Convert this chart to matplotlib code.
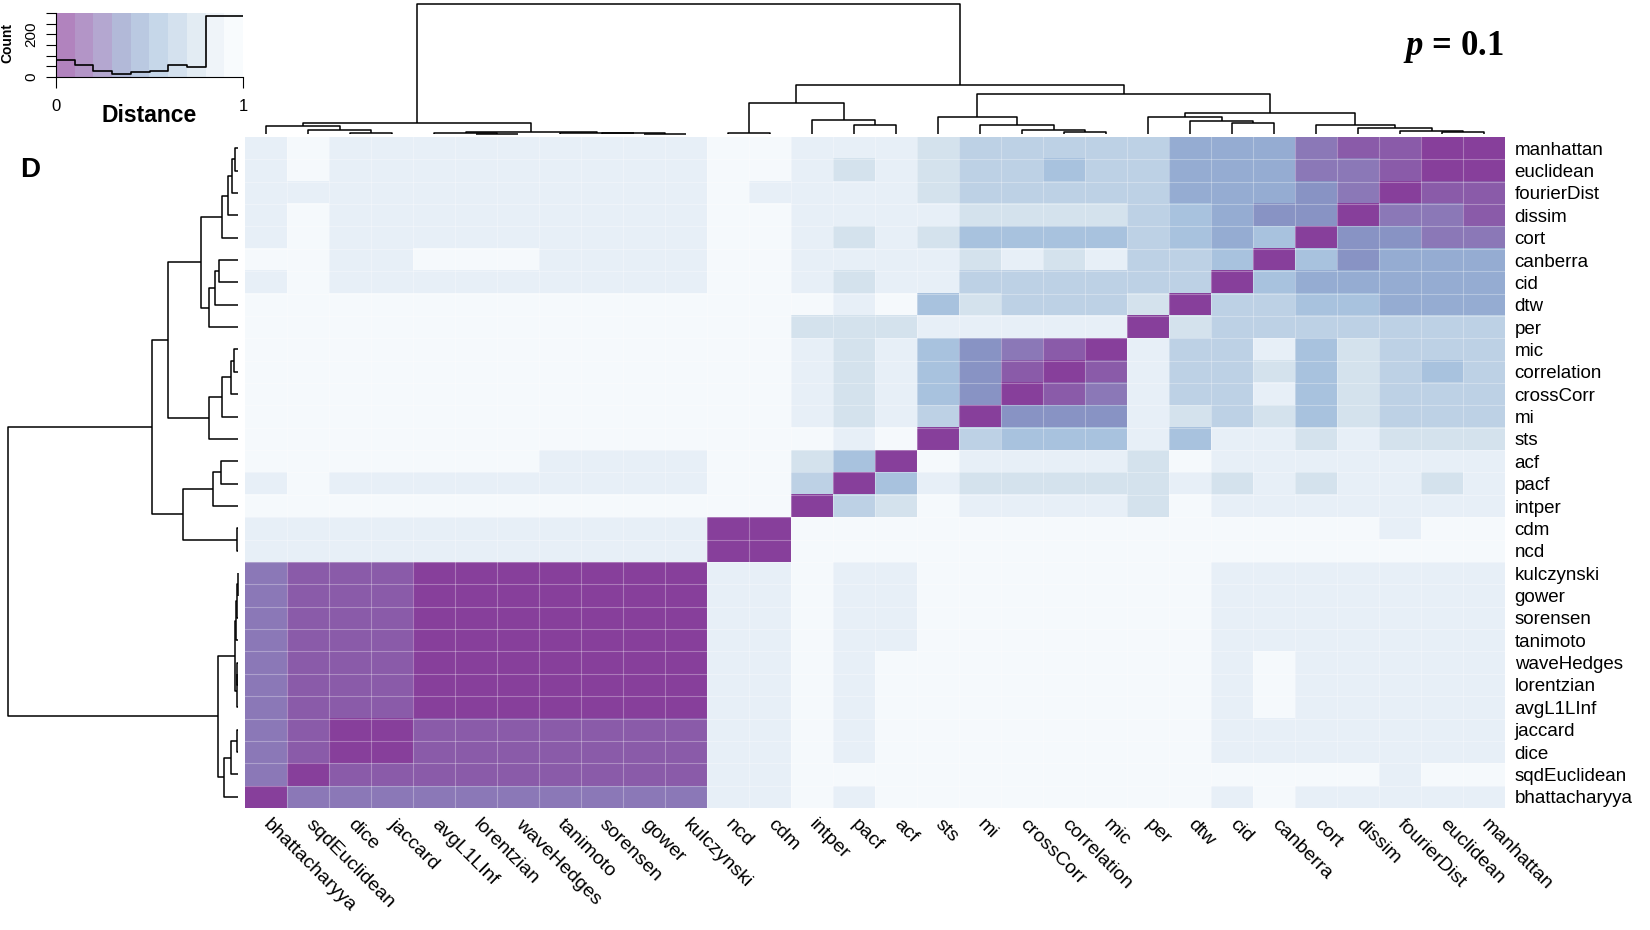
import matplotlib
matplotlib.use("Agg")
import matplotlib.pyplot as plt
import numpy as np
from matplotlib.colors import ListedColormap, BoundaryNorm

plt.rcParams['font.family'] = ['Liberation Sans', 'DejaVu Sans']
plt.rcParams['mathtext.fontset'] = 'custom'
plt.rcParams['mathtext.it'] = 'Liberation Serif:italic:bold'
plt.rcParams['mathtext.rm'] = 'Liberation Serif:bold'

# column order (left to right); rows run the other way (top = manhattan)
col_names = ["bhattacharyya", "sqdEuclidean", "dice", "jaccard", "avgL1LInf",
             "lorentzian", "waveHedges", "tanimoto", "sorensen", "gower",
             "kulczynski", "ncd", "cdm", "intper", "pacf", "acf", "sts", "mi",
             "crossCorr", "correlation", "mic", "per", "dtw", "cid", "canberra",
             "cort", "dissim", "fourierDist", "euclidean", "manhattan"]
row_names = col_names[::-1]

# distance matrix, rows top to bottom, columns left to right
dist = [
    [0.85,0.95,0.85,0.85,0.85,0.85,0.85,0.85,0.85,0.85,0.85,0.95,0.95,0.85,0.85,0.85,0.75,0.65,0.65,0.65,0.65,0.65,0.45,0.45,0.45,0.25,0.15,0.15,0.05,0.0],
    [0.85,0.95,0.85,0.85,0.85,0.85,0.85,0.85,0.85,0.85,0.85,0.95,0.95,0.85,0.75,0.85,0.75,0.65,0.65,0.55,0.65,0.65,0.45,0.45,0.45,0.25,0.25,0.15,0.0,0.05],
    [0.85,0.85,0.85,0.85,0.85,0.85,0.85,0.85,0.85,0.85,0.85,0.95,0.85,0.85,0.85,0.85,0.75,0.65,0.65,0.65,0.65,0.65,0.45,0.45,0.45,0.35,0.25,0.0,0.15,0.15],
    [0.85,0.95,0.85,0.85,0.85,0.85,0.85,0.85,0.85,0.85,0.85,0.95,0.95,0.85,0.85,0.85,0.85,0.75,0.75,0.75,0.75,0.65,0.55,0.45,0.35,0.35,0.0,0.25,0.25,0.15],
    [0.85,0.95,0.85,0.85,0.85,0.85,0.85,0.85,0.85,0.85,0.85,0.95,0.95,0.85,0.75,0.85,0.75,0.55,0.55,0.55,0.55,0.65,0.55,0.45,0.55,0.0,0.35,0.35,0.25,0.25],
    [0.95,0.95,0.85,0.85,0.95,0.95,0.95,0.85,0.85,0.85,0.85,0.95,0.95,0.85,0.85,0.85,0.85,0.75,0.85,0.75,0.85,0.65,0.65,0.55,0.0,0.55,0.35,0.45,0.45,0.45],
    [0.85,0.95,0.85,0.85,0.85,0.85,0.85,0.85,0.85,0.85,0.85,0.95,0.95,0.85,0.75,0.85,0.85,0.65,0.65,0.65,0.65,0.65,0.65,0.0,0.55,0.45,0.45,0.45,0.45,0.45],
    [0.95,0.95,0.95,0.95,0.95,0.95,0.95,0.95,0.95,0.95,0.95,0.95,0.95,0.95,0.85,0.95,0.55,0.75,0.65,0.65,0.65,0.75,0.0,0.65,0.65,0.55,0.55,0.45,0.45,0.45],
    [0.95,0.95,0.95,0.95,0.95,0.95,0.95,0.95,0.95,0.95,0.95,0.95,0.95,0.75,0.75,0.75,0.85,0.85,0.85,0.85,0.85,0.0,0.75,0.65,0.65,0.65,0.65,0.65,0.65,0.65],
    [0.95,0.95,0.95,0.95,0.95,0.95,0.95,0.95,0.95,0.95,0.95,0.95,0.95,0.85,0.75,0.85,0.55,0.35,0.25,0.15,0.0,0.85,0.65,0.65,0.85,0.55,0.75,0.65,0.65,0.65],
    [0.95,0.95,0.95,0.95,0.95,0.95,0.95,0.95,0.95,0.95,0.95,0.95,0.95,0.85,0.75,0.85,0.55,0.35,0.15,0.0,0.15,0.85,0.65,0.65,0.75,0.55,0.75,0.65,0.55,0.65],
    [0.95,0.95,0.95,0.95,0.95,0.95,0.95,0.95,0.95,0.95,0.95,0.95,0.95,0.85,0.75,0.85,0.55,0.35,0.0,0.15,0.25,0.85,0.65,0.65,0.85,0.55,0.75,0.65,0.65,0.65],
    [0.95,0.95,0.95,0.95,0.95,0.95,0.95,0.95,0.95,0.95,0.95,0.95,0.95,0.85,0.75,0.85,0.65,0.0,0.35,0.35,0.35,0.85,0.75,0.65,0.75,0.55,0.75,0.65,0.65,0.65],
    [0.95,0.95,0.95,0.95,0.95,0.95,0.95,0.95,0.95,0.95,0.95,0.95,0.95,0.95,0.85,0.95,0.0,0.65,0.55,0.55,0.55,0.85,0.55,0.85,0.85,0.75,0.85,0.75,0.75,0.75],
    [0.95,0.95,0.95,0.95,0.95,0.95,0.95,0.85,0.85,0.85,0.85,0.95,0.95,0.75,0.55,0.0,0.95,0.85,0.85,0.85,0.85,0.75,0.95,0.85,0.85,0.85,0.85,0.85,0.85,0.85],
    [0.85,0.95,0.85,0.85,0.85,0.85,0.85,0.85,0.85,0.85,0.85,0.95,0.95,0.65,0.0,0.55,0.85,0.75,0.75,0.75,0.75,0.75,0.85,0.75,0.85,0.75,0.85,0.85,0.75,0.85],
    [0.95,0.95,0.95,0.95,0.95,0.95,0.95,0.95,0.95,0.95,0.95,0.95,0.95,0.0,0.65,0.75,0.95,0.85,0.85,0.85,0.85,0.75,0.95,0.85,0.85,0.85,0.85,0.85,0.85,0.85],
    [0.85,0.85,0.85,0.85,0.85,0.85,0.85,0.85,0.85,0.85,0.85,0.05,0.0,0.95,0.95,0.95,0.95,0.95,0.95,0.95,0.95,0.95,0.95,0.95,0.95,0.95,0.95,0.85,0.95,0.95],
    [0.85,0.85,0.85,0.85,0.85,0.85,0.85,0.85,0.85,0.85,0.85,0.0,0.05,0.95,0.95,0.95,0.95,0.95,0.95,0.95,0.95,0.95,0.95,0.95,0.95,0.95,0.95,0.95,0.95,0.95],
    [0.25,0.15,0.15,0.15,0.05,0.05,0.05,0.05,0.05,0.05,0.0,0.85,0.85,0.95,0.85,0.85,0.95,0.95,0.95,0.95,0.95,0.95,0.95,0.85,0.85,0.85,0.85,0.85,0.85,0.85],
    [0.25,0.15,0.15,0.15,0.05,0.05,0.05,0.05,0.05,0.0,0.05,0.85,0.85,0.95,0.85,0.85,0.95,0.95,0.95,0.95,0.95,0.95,0.95,0.85,0.85,0.85,0.85,0.85,0.85,0.85],
    [0.25,0.15,0.15,0.15,0.05,0.05,0.05,0.05,0.0,0.05,0.05,0.85,0.85,0.95,0.85,0.85,0.95,0.95,0.95,0.95,0.95,0.95,0.95,0.85,0.85,0.85,0.85,0.85,0.85,0.85],
    [0.25,0.15,0.15,0.15,0.05,0.05,0.05,0.0,0.05,0.05,0.05,0.85,0.85,0.95,0.85,0.85,0.95,0.95,0.95,0.95,0.95,0.95,0.95,0.85,0.85,0.85,0.85,0.85,0.85,0.85],
    [0.25,0.15,0.15,0.15,0.05,0.05,0.0,0.05,0.05,0.05,0.05,0.85,0.85,0.95,0.85,0.95,0.95,0.95,0.95,0.95,0.95,0.95,0.95,0.85,0.95,0.85,0.85,0.85,0.85,0.85],
    [0.25,0.15,0.15,0.15,0.05,0.0,0.05,0.05,0.05,0.05,0.05,0.85,0.85,0.95,0.85,0.95,0.95,0.95,0.95,0.95,0.95,0.95,0.95,0.85,0.95,0.85,0.85,0.85,0.85,0.85],
    [0.25,0.15,0.15,0.15,0.0,0.05,0.05,0.05,0.05,0.05,0.05,0.85,0.85,0.95,0.85,0.95,0.95,0.95,0.95,0.95,0.95,0.95,0.95,0.85,0.95,0.85,0.85,0.85,0.85,0.85],
    [0.25,0.15,0.05,0.0,0.15,0.15,0.15,0.15,0.15,0.15,0.15,0.85,0.85,0.95,0.85,0.95,0.95,0.95,0.95,0.95,0.95,0.95,0.95,0.85,0.85,0.85,0.85,0.85,0.85,0.85],
    [0.25,0.15,0.0,0.05,0.15,0.15,0.15,0.15,0.15,0.15,0.15,0.85,0.85,0.95,0.85,0.95,0.95,0.95,0.95,0.95,0.95,0.95,0.95,0.85,0.85,0.85,0.85,0.85,0.85,0.85],
    [0.25,0.0,0.15,0.15,0.15,0.15,0.15,0.15,0.15,0.15,0.15,0.85,0.85,0.95,0.95,0.95,0.95,0.95,0.95,0.95,0.95,0.95,0.95,0.95,0.95,0.95,0.95,0.85,0.95,0.95],
    [0.0,0.25,0.25,0.25,0.25,0.25,0.25,0.25,0.25,0.25,0.25,0.85,0.85,0.95,0.85,0.95,0.95,0.95,0.95,0.95,0.95,0.95,0.95,0.85,0.95,0.85,0.85,0.85,0.85,0.85],
]

# hierarchical merges: (left node, right node, height); leaves 0-29 in column order,
# merged node k gets id 30 + k
merges = [
    (2, 3, 0.004), (1, 30, 0.031), (0, 31, 0.062),
    (5, 6, 0.003), (4, 33, 0.006), (9, 10, 0.002), (8, 35, 0.004), (7, 36, 0.007),
    (34, 37, 0.014), (32, 38, 0.085),
    (11, 12, 0.004), (14, 15, 0.072), (13, 41, 0.109), (40, 42, 0.239),
    (19, 20, 0.018), (18, 44, 0.031), (17, 45, 0.069), (16, 46, 0.127),
    (23, 24, 0.081), (22, 48, 0.102), (21, 49, 0.128),
    (28, 29, 0.014), (27, 51, 0.026), (26, 52, 0.045), (25, 53, 0.071),
    (50, 54, 0.162), (47, 55, 0.306), (43, 56, 0.375), (39, 57, 1.0),
]

level_colors = ["#873F9B", "#8A5BA9", "#8B78B7", "#8893C4", "#95ACD2",
                "#A8C2DE", "#BDD1E5", "#D4E2ED", "#E7EFF7", "#F5F9FC"]
bounds = np.linspace(0, 1, 11)

W, H = 1650, 930
fig = plt.figure(figsize=(W / 100, H / 100), dpi=100)
cmap = ListedColormap(level_colors)
norm = BoundaryNorm(bounds, cmap.N)
D = np.array(dist)


def tree_lines(merges, n):
    pos = {i: float(i) for i in range(n)}
    hgt = {i: 0.0 for i in range(n)}
    segs = []
    for k, (a, b, h) in enumerate(merges):
        segs.append(([pos[a], pos[a], pos[b], pos[b]], [hgt[a], h, h, hgt[b]]))
        pos[n + k] = (pos[a] + pos[b]) / 2
        hgt[n + k] = h
    return segs


segs = tree_lines(merges, len(col_names))

# heatmap
ax = fig.add_axes([245 / W, 1 - 808 / H, 1260 / W, 671 / H])
ax.imshow(D, cmap=cmap, norm=norm, aspect='auto', interpolation='nearest')
for i in range(1, 30):
    ax.axvline(i - 0.5, color='white', lw=0.8, alpha=0.3)
    ax.axhline(i - 0.5, color='white', lw=0.8, alpha=0.3)
for s in ax.spines.values():
    s.set_visible(False)
ax.yaxis.tick_right()
ax.set_yticks(range(30), row_names, fontsize=13.5)
ax.set_xticks(range(30), col_names, fontsize=14, rotation=-45, ha='left',
              va='center', rotation_mode='anchor')
ax.tick_params(axis='y', length=0, pad=7)
ax.tick_params(axis='x', length=0, pad=10)

# column dendrogram
cd = fig.add_axes([245 / W, 1 - 134 / H, 1260 / W, 130 / H])
for xs, ys in segs:
    cd.plot(xs, ys, color='black', lw=1.1, clip_on=False, solid_capstyle='butt')
cd.set_xlim(-0.5, 29.5)
cd.set_ylim(0, 1)
cd.axis('off')

# row dendrogram
rd = fig.add_axes([8 / W, 1 - 808 / H, 230 / W, 671 / H])
for xs, ys in segs:
    rd.plot(ys, xs, color='black', lw=1.1, clip_on=False, solid_capstyle='butt')
rd.set_ylim(-0.5, 29.5)
rd.set_xlim(1, 0)
rd.axis('off')

# colour key with histogram
kax = fig.add_axes([56 / W, 1 - 77 / H, 187 / W, 64 / H])
kax.imshow(np.arange(10).reshape(1, -1), cmap=cmap, aspect='auto',
           extent=(0, 1, 0, 300), alpha=0.65)
counts, edges = np.histogram(D.ravel(), bins=bounds)
kax.step(edges, np.r_[counts, counts[-1]], where='post', color='black', lw=1.2)
kax.set_xlim(0, 1)
kax.set_ylim(0, 300)
kax.spines['top'].set_visible(False)
kax.spines['right'].set_visible(False)
kax.set_xticks([0, 1], ['0', '1'], fontsize=12)
kax.set_yticks([0, 50, 100, 150, 200, 250, 300],
               ['0', '', '', '', '200', '', ''], fontsize=11, rotation=90, va='center')
kax.tick_params(axis='x', length=8, pad=8)
kax.tick_params(axis='y', length=7, pad=6)
kax.text(0.5, -0.6, 'Distance', transform=kax.transAxes, ha='center', va='center',
         fontsize=16.5, fontweight='bold')
fig.text(7 / W, 1 - 43 / H, 'Count', rotation=90, ha='center', va='center',
         fontsize=10, fontweight='bold')

fig.text(30 / W, 1 - 170 / H, 'D', fontsize=20, fontweight='bold', ha='center', va='center')
fig.text(1453 / W, 1 - 47 / H, r'$p$ = 0.1', fontsize=25, fontweight='bold',
         family='Liberation Serif', ha='center', va='center')

fig.savefig('out.png', dpi=100)
